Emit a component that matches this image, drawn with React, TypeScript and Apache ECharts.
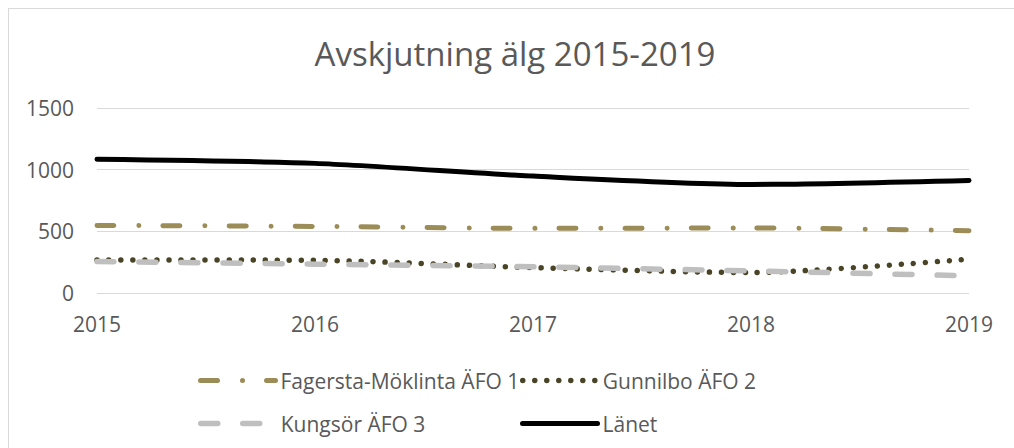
import React, { useEffect, useRef } from "react";
import * as echarts from "echarts";

const years = ["2015", "2016", "2017", "2018", "2019"];
const fagersta = [548, 540, 524, 527, 505];
const gunnilbo = [268, 265, 206, 166, 275];
const kungsor = [255, 234, 212, 179, 139];
const lanet = [1084, 1051, 948, 880, 913];
const seriesNames = ["Fagersta-Möklinta ÄFO 1", "Gunnilbo ÄFO 2", "Kungsör ÄFO 3", "Länet"];
const yTicks = { min: 0, max: 1500, interval: 500 };

const FONT = "'Open Sans', sans-serif";
const TXT = "#595959";

export default function App() {
  const ref = useRef<HTMLDivElement>(null);
  useEffect(() => {
    if (!ref.current) return;
    const chart = echarts.init(ref.current, null, { renderer: "svg" });
    const legendBase = (name: string, left: number, top: number) => ({
      data: [name],
      left,
      top,
      padding: 0,
      itemWidth: 75,
      itemHeight: 14,
      itemGap: 0,
      itemStyle: { opacity: 0 },
      lineStyle: { width: "inherit" },
      textStyle: { fontFamily: FONT, fontSize: 21, color: TXT },
      selectedMode: false,
    });
    chart.setOption({
      animation: false,
      backgroundColor: "#ffffff",
      title: {
        text: "Avskjutning älg 2015-2019",
        left: "center",
        top: 28,
        padding: 0,
        textStyle: { fontFamily: FONT, fontSize: 33, fontWeight: "normal", color: TXT },
      },
      grid: { left: 88, right: 52, top: 99, bottom: 165, containLabel: false },
      legend: [
        legendBase(seriesNames[0], 189, 361),
        legendBase(seriesNames[1], 511, 361),
        legendBase(seriesNames[2], 189, 404),
        legendBase(seriesNames[3], 511, 404),
      ],
      xAxis: {
        type: "category",
        data: years,
        boundaryGap: false,
        axisLine: { show: false },
        axisTick: { show: false },
        axisLabel: { fontFamily: FONT, fontSize: 21, color: TXT, margin: 20 },
      },
      yAxis: {
        type: "value",
        min: yTicks.min,
        max: yTicks.max,
        interval: yTicks.interval,
        axisLine: { show: false },
        axisTick: { show: false },
        axisLabel: {
          fontFamily: FONT,
          fontSize: 21,
          color: TXT,
          margin: 23,
          formatter: (v: number) => String(v),
        },
        splitLine: { lineStyle: { color: "#d9d9d9", width: 1 } },
      },
      series: [
        {
          name: seriesNames[0],
          type: "line",
          data: fagersta,
          smooth: 0.25,
          symbol: "none",
          color: "#9c8c57",
          lineStyle: { color: "#9c8c57", width: 5, type: [17, 25, 0.01, 24], cap: "round" },
        },
        {
          name: seriesNames[1],
          type: "line",
          data: gunnilbo,
          smooth: 0.25,
          symbol: "none",
          color: "#4a4427",
          lineStyle: { color: "#4a4427", width: 5.5, type: [0.01, 12], cap: "round" },
        },
        {
          name: seriesNames[2],
          type: "line",
          data: kungsor,
          smooth: 0.25,
          symbol: "none",
          color: "#bfbfbf",
          lineStyle: { color: "#bfbfbf", width: 5.5, type: [17, 25], cap: "round" },
        },
        {
          name: seriesNames[3],
          type: "line",
          data: lanet,
          smooth: 0.25,
          symbol: "none",
          color: "#000000",
          lineStyle: { color: "#000000", width: 5, type: "solid", cap: "round" },
        },
      ],
    });
    return () => chart.dispose();
  }, []);
  return (
    <div
      style={{
        position: "fixed",
        left: 8,
        top: 8,
        width: 1020,
        height: 450,
        borderLeft: "1px solid #d9d9d9",
        borderTop: "1px solid #d9d9d9",
        boxSizing: "border-box",
        overflow: "hidden",
        background: "#ffffff",
      }}
    >
      <div ref={ref} style={{ width: 1012, height: 449 }} />
    </div>
  );
}
